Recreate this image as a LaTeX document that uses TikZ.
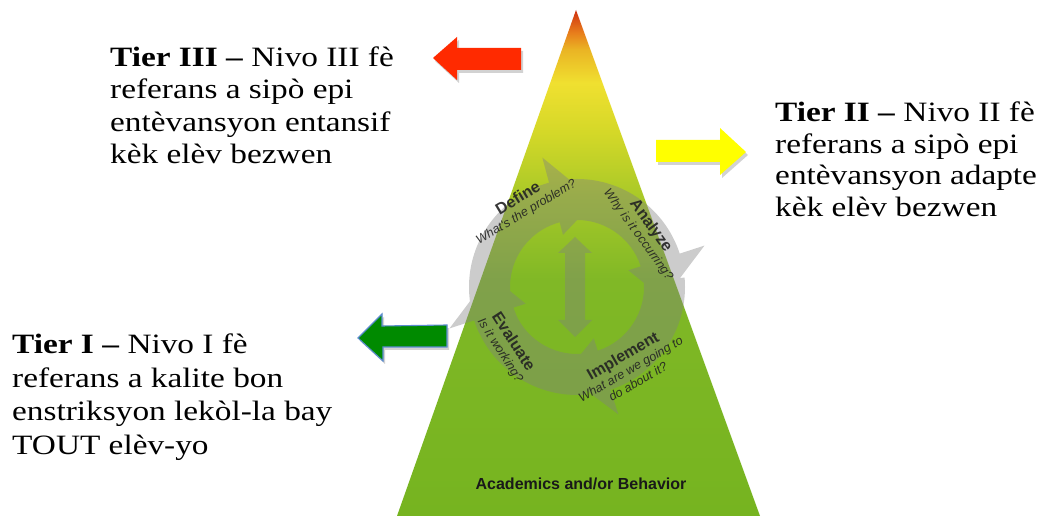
\documentclass[tikz,border=0pt]{standalone}
\usepackage{fontspec}
\setmainfont[FakeStretch=1.19]{Liberation Serif}
\newfontfamily\cycfont{Liberation Sans}
\usetikzlibrary{shadows,calc}
\definecolor{redarrow}{HTML}{FF2A00}
\definecolor{yelarrow}{HTML}{FFFF00}
\definecolor{grnarrow}{HTML}{008A00}
\definecolor{grnedge}{HTML}{5B8BD0}
\definecolor{ringgray}{HTML}{808080}
\definecolor{cyctext}{HTML}{222222}
\definecolor{pa}{HTML}{76B420}
\definecolor{pb}{HTML}{80B826}
\definecolor{pc}{HTML}{A6C828}
\definecolor{pd}{HTML}{D4D828}
\definecolor{pe}{HTML}{F0E030}
\definecolor{pf}{HTML}{EAB424}
\definecolor{pg}{HTML}{E8801C}
\definecolor{ph}{HTML}{D03010}
\pgfdeclareverticalshading{pyr}{100bp}{color(0bp)=(pa); color(25bp)=(pa); color(48.3bp)=(pb); color(56.2bp)=(pc); color(62.9bp)=(pd); color(67.8bp)=(pe); color(71.1bp)=(pf); color(72.7bp)=(pg); color(75bp)=(ph); color(100bp)=(ph)}
\tikzset{
  tiertext/.style={anchor=north west, inner sep=0pt, align=left},
  cyctitle/.style={inner sep=0pt, align=center, text=cyctext, text opacity=0.9, font=\cycfont\fontsize{12.5}{14.5}\selectfont},
  bigarrow/.style={drop shadow={shadow xshift=2pt, shadow yshift=-3pt, opacity=0.35}},
}
\newcommand\cyctit[1]{{\fontsize{16}{16}\selectfont\bfseries #1}}
\begin{document}
\begin{tikzpicture}[x=1pt,y=1pt]
\path[use as bounding box, fill=white] (0,0) rectangle (1042,516);
% pyramid
\coordinate (apex) at (576,506);
\coordinate (bl) at (397,0);
\coordinate (br) at (760,0);
\shade[shading=pyr] (apex) -- (bl) -- (br) -- cycle;
% cycle arrows
\coordinate (cc) at (577,229);
\begin{scope}[shift={(cc)}, transparency group, opacity=0.4]
  \def\rO{108}\def\rI{67}\def\rM{88}\def\rBO{134}\def\rBI{54}
  \foreach \a/\b/\c in {205/105/78, 95/18/-8, 5/-72/-98, -85/-162/-188}{
    \fill[ringgray] (\a:\rO) arc[start angle=\a, end angle=\b, radius=\rO]
      -- (\b:\rBO) -- (\c:\rM) -- (\b:\rBI) -- (\b:\rI)
      arc[start angle=\b, end angle=\a, radius=\rI] -- cycle;
  }
  % double arrow
  \fill[ringgray] (-2,50) -- (15,34) -- (8,34) -- (8,-33) -- (15,-33) -- (-2,-50)
     -- (-19,-33) -- (-12,-33) -- (-12,34) -- (-19,34) -- cycle;
\end{scope}
% cycle labels
\node[cyctitle, rotate=31] (define) at (522,311) {\cyctit{Define}\\\itshape What's the problem?};
\node[cyctitle, rotate=-54] (analyze) at (645,286) {\cyctit{Analyze}\\\itshape Why is it occurring?};
\node[cyctitle, rotate=-57] (evaluate) at (507,170) {\cyctit{Evaluate}\\\itshape Is it working?};
\node[cyctitle, rotate=30] (implement) at (630,148) {\cyctit{Implement}\\\itshape What are we going to\\\itshape do about it?};
\node[inner sep=0pt, text=black!90, font=\cycfont\fontsize{16}{16}\selectfont\bfseries] (acad) at (581,32) {Academics and/or Behavior};
% big arrows
\fill[redarrow, bigarrow] (433,458) -- (457,479) -- (457,468) -- (521,468) -- (521,446) -- (457,446) -- (457,436) -- cycle;
\fill[yelarrow, bigarrow] (656,376) -- (720,376) -- (720,388) -- (746,364) -- (720,341) -- (720,354) -- (656,354) -- cycle;
\filldraw[fill=grnarrow, draw=grnedge, line width=1.1pt, bigarrow] (358,178) -- (382,202) -- (382,190) -- (447,191) -- (447,169) -- (383,169) -- (383,155) -- cycle;
% tier texts
\node[tiertext, font=\fontsize{28}{32.3}\selectfont] (tier3) at (110,469.5) {\textbf{Tier III –} Nivo III fè\\referans a sipò epi\\entèvansyon entansif\\kèk elèv bezwen};
\node[tiertext, font=\fontsize{28}{31.7}\selectfont] (tier2) at (775,414.5) {\textbf{Tier II –} Nivo II fè\\referans a sipò epi\\entèvansyon adapte\\kèk elèv bezwen};
\node[tiertext, font=\fontsize{28}{33.6}\selectfont] (tier1) at (12,182.5) {\textbf{Tier I –} Nivo I fè\\referans a kalite bon\\enstriksyon lekòl-la bay\\TOUT elèv-yo};
\end{tikzpicture}
\end{document}
